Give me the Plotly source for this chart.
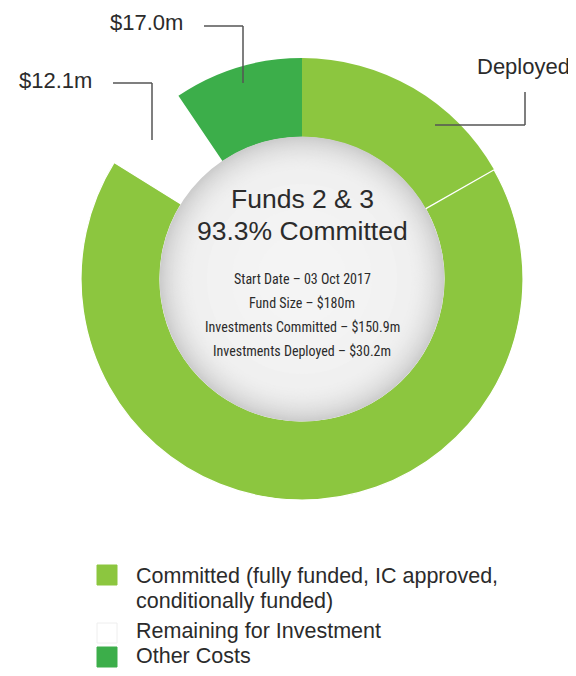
import plotly.graph_objects as go

# ---- data ----
slice_labels = ["Deployed", "Committed (not yet deployed)", "Remaining for Investment", "Other Costs"]
slice_values = [30.2, 120.7, 12.1, 17.0]
slice_colors = ["#8cc63f", "#8cc63f", "#ffffff", "#3cae4a"]

legend_lines = [["Committed (fully funded, IC approved,", "conditionally funded)"],
                ["Remaining for Investment"], ["Other Costs"]]
legend_colors = ["#8cc63f", "#ffffff", "#3cae4a"]

center_title = ["Funds 2 & 3", "93.3% Committed"]
center_lines = ["Start Date – 03 Oct 2017", "Fund Size – $180m",
                "Investments Committed – $150.9m", "Investments Deployed – $30.2m"]

OFF = 8  # page body margin
W, H = 576 - OFF, 676 - 2 * OFF
cx, cy = 302, 279
R_out, R_in = 221, 142

def px_x(x):
    return (x - OFF) / W

def px_y(y):
    return 1 - (y - OFF) / H

fig = go.Figure()
fig.add_trace(go.Pie(
    labels=slice_labels, values=slice_values, sort=False, direction="clockwise",
    rotation=0, hole=R_in / R_out,
    marker=dict(colors=slice_colors, line=dict(color="white", width=[0, 1.2, 0, 0])),
    textinfo="none", hoverinfo="label+value", showlegend=False,
    domain=dict(x=[px_x(cx - R_out), px_x(cx + R_out)], y=[px_y(cy + R_out), px_y(cy - R_out)]),
))

shapes = []
# grey gradient disc in the hole (darker rim, near-white centre)
n = 40
for i in range(n):
    t = i / (n - 1)
    d = 40 * t
    r = R_in + 0.5 - d if i < n - 1 else R_in - 60
    g = int(205 + (241 - 205) * (1 - (1 - t) ** 2.2))
    col = f"rgb({g},{g},{g})"
    shapes.append(dict(type="circle", xref="paper", yref="paper",
                       xsizemode="pixel", ysizemode="pixel",
                       xanchor=px_x(cx), yanchor=px_y(cy),
                       x0=-r, x1=r, y0=-r, y1=r,
                       fillcolor=col, line=dict(width=0), layer="above"))
for r, g in [(95, 242), (70, 243), (45, 244)]:
    shapes.append(dict(type="circle", xref="paper", yref="paper",
                       xsizemode="pixel", ysizemode="pixel",
                       xanchor=px_x(cx), yanchor=px_y(cy),
                       x0=-r, x1=r, y0=-r, y1=r,
                       fillcolor=f"rgb({g},{g},{g})", line=dict(width=0), layer="above"))

# leader lines
line_style = dict(color="#555555", width=1.5)
def seg(x0, y0, x1, y1):
    shapes.append(dict(type="line", xref="paper", yref="paper",
                       x0=px_x(x0), y0=px_y(y0), x1=px_x(x1), y1=px_y(y1), line=line_style))

seg(204, 26, 243, 26); seg(243, 26, 243, 83)
seg(113, 83, 152, 83); seg(152, 83, 152, 140)
seg(525, 92, 525, 125); seg(525, 125, 435, 125)

# legend squares
sq_y = [575, 633, 657]
for yc, col in zip(sq_y, legend_colors):
    shapes.append(dict(type="rect", xref="paper", yref="paper",
                       x0=px_x(97), x1=px_x(117), y0=px_y(yc + 10), y1=px_y(yc - 10),
                       fillcolor=col,
                       line=dict(color="#eeeeee" if col == "#ffffff" else col, width=1)))

annotations = []
font_main = "Liberation Sans, Arial, Helvetica, sans-serif"
font_narrow = "Liberation Sans Narrow, Arial Narrow, Roboto Condensed, Liberation Sans, sans-serif"

def txt(x, y, s, size, xanchor="center", family=font_main, color="#2b2b2b"):
    annotations.append(dict(xref="paper", yref="paper", x=px_x(x), y=px_y(y), text=s,
                            showarrow=False, xanchor=xanchor, yanchor="middle",
                            align="left", font=dict(family=family, size=size, color=color)))

txt(146, 22, "$17.0m", 22)
txt(55, 80, "$12.1m", 22)
txt(523, 67, "Deployed", 22)

txt(cx, 199, center_title[0], 26.5)
txt(cx, 231, center_title[1], 26.5)
for i, s in enumerate(center_lines):
    txt(cx, 279 + i * 24, s, 14, family=font_narrow)

legend_y = [[576, 601], [631], [656]]
for ys, lines in zip(legend_y, legend_lines):
    for yc, s in zip(ys, lines):
        txt(134, yc, s, 21.5, xanchor="left")

fig.update_layout(width=W, height=H, margin=dict(l=0, r=0, t=0, b=0),
                  paper_bgcolor="white", plot_bgcolor="white",
                  shapes=shapes, annotations=annotations, showlegend=False)
fig.write_html("out.html")
